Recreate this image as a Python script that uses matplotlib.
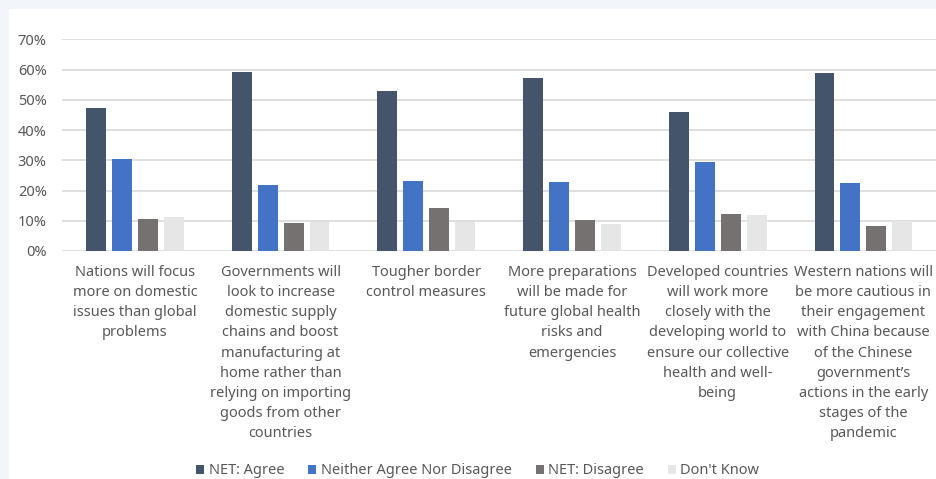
import matplotlib.pyplot as plt
from matplotlib.patches import Rectangle
from matplotlib.ticker import PercentFormatter
import numpy as np

plt.rcParams['font.family'] = ['Noto Sans', 'DejaVu Sans']

categories = [
    "Nations will focus\nmore on domestic\nissues than global\nproblems",
    "Governments will\nlook to increase\ndomestic supply\nchains and boost\nmanufacturing at\nhome rather than\nrelying on importing\ngoods from other\ncountries",
    "Tougher border\ncontrol measures",
    "More preparations\nwill be made for\nfuture global health\nrisks and\nemergencies",
    "Developed countries\nwill work more\nclosely with the\ndeveloping world to\nensure our collective\nhealth and well-\nbeing",
    "Western nations will\nbe more cautious in\ntheir engagement\nwith China because\nof the Chinese\ngovernment\u2019s\nactions in the early\nstages of the\npandemic",
]
net_agree = [47.2, 59.3, 53.0, 57.1, 46.1, 58.8]
neither = [30.5, 21.8, 23.1, 22.9, 29.4, 22.4]
net_disagree = [10.5, 9.2, 14.1, 10.3, 12.1, 8.3]
dont_know = [11.2, 9.5, 9.5, 9.0, 11.9, 9.9]

series = [
    ("NET: Agree", net_agree, "#44546A"),
    ("Neither Agree Nor Disagree", neither, "#4472C4"),
    ("NET: Disagree", net_disagree, "#767171"),
    ("Don't Know", dont_know, "#E7E6E6"),
]

txt = "#595959"
fig = plt.figure(figsize=(9.37, 4.79), dpi=100, facecolor="#F2F6FA")
# white panel, pale strip left and top
fig.patches.append(Rectangle((9 / 937, 0), 1, 1 - 9 / 479, transform=fig.transFigure,
                             facecolor="white", edgecolor="none", zorder=-5))
ax = fig.add_axes([0.0662, 0.476, 0.933, 0.442])
ax.set_facecolor("none")

x = np.arange(len(categories))
w = 0.137
step = 0.178
for i, (name, vals, col) in enumerate(series):
    ax.bar(x + (i - 1.5) * step, vals, width=w, color=col, label=name, zorder=3)

ax.set_xlim(-0.5, len(categories) - 0.5)
ax.set_ylim(0, 70)
ax.set_yticks(range(0, 71, 10))
ax.yaxis.set_major_formatter(PercentFormatter(decimals=0))
ax.grid(axis="y", color="#D9D9D9", linewidth=1.2, zorder=0)
for s in ax.spines.values():
    s.set_visible(False)
ax.tick_params(length=0, labelsize=10.5, labelcolor=txt)
ax.tick_params(axis="y", pad=11)
ax.set_xticks(x)
ax.set_xticklabels(categories, linespacing=1.47, fontsize=10.5, color=txt)
ax.tick_params(axis="x", pad=10)

fig.legend(loc="lower center", bbox_to_anchor=(0.51, -0.026), ncol=4, frameon=False,
           fontsize=10.5, labelcolor=txt, handlelength=0.55, handleheight=0.55,
           handletextpad=0.3, columnspacing=1.65)

fig.savefig("out.png", dpi=100, facecolor=fig.get_facecolor())
